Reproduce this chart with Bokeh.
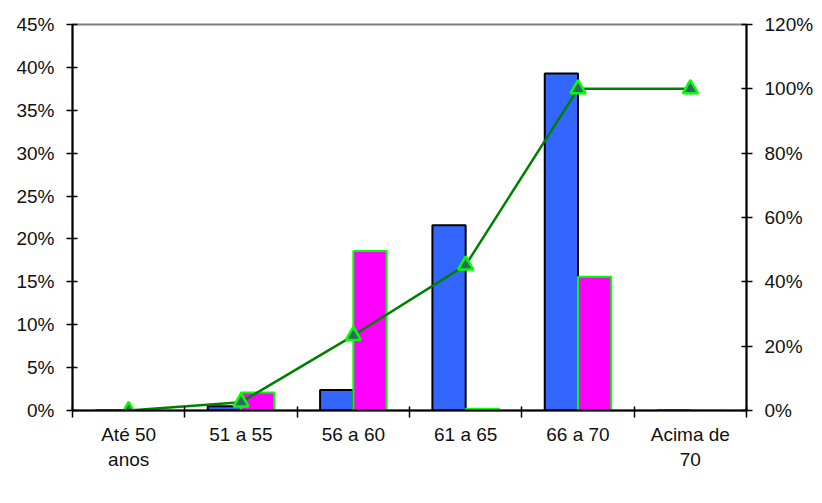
from bokeh.plotting import figure
from bokeh.models import (Range1d, LinearAxis, FixedTicker, NumeralTickFormatter,
                          Legend, LegendItem, ColumnDataSource)
from bokeh.transform import dodge
from bokeh.embed import file_html
from bokeh.resources import INLINE

# ---- data ----
categories = ["Até 50\nanos", "51 a 55", "56 a 60", "61 a 65", "66 a 70", "Acima de\n70"]
homens = [0.0, 0.005, 0.024, 0.216, 0.393, 0.0]
mulheres = [0.0, 0.021, 0.186, 0.002, 0.156, 0.0]
acumulado = [0.0, 0.026, 0.233, 0.452, 1.0, 1.0]
left_ticks = [0.0, 0.05, 0.10, 0.15, 0.20, 0.25, 0.30, 0.35, 0.40, 0.45]
right_ticks = [0.0, 0.2, 0.4, 0.6, 0.8, 1.0, 1.2]

n = len(categories)
xpos = [i + 0.5 for i in range(n)]
bounds = [float(i) for i in range(n + 1)]
src = ColumnDataSource(dict(x=xpos, homens=homens, mulheres=mulheres, acum=acumulado))

FONT = "Liberation Sans"
BAR_W = 0.296

p = figure(frame_width=674, frame_height=386, output_backend="svg", toolbar_location=None,
           x_range=Range1d(0, n), y_range=Range1d(0, left_ticks[-1]),
           min_border_left=72, min_border_right=60, min_border_top=24, min_border_bottom=0)
p.extra_y_ranges = {"acum": Range1d(0, right_ticks[-1])}
p.xgrid.visible = False
p.ygrid.visible = False
p.outline_line_color = "#808080"
p.outline_line_width = 2
p.background_fill_color = "white"
p.border_fill_color = "white"

# x axis
xa = p.xaxis[0]
xa.ticker = FixedTicker(ticks=xpos, minor_ticks=bounds)
xa.major_label_overrides = {x: c for x, c in zip(xpos, categories)}
xa.major_tick_out = 0
xa.major_tick_in = 0
xa.minor_tick_out = 7
xa.minor_tick_in = 4
xa.minor_tick_line_color = "black"
xa.minor_tick_line_width = 1.5
xa.axis_line_color = "black"
xa.axis_line_width = 2
xa.major_label_text_font = FONT
xa.major_label_text_font_size = "19px"
xa.major_label_text_color = "#111111"
xa.major_label_standoff = 6

# left axis
ya = p.yaxis[0]
ya.ticker = FixedTicker(ticks=left_ticks)
ya.formatter = NumeralTickFormatter(format="0%")

ra = LinearAxis(y_range_name="acum", ticker=FixedTicker(ticks=right_ticks),
                formatter=NumeralTickFormatter(format="0%"))
p.add_layout(ra, "right")

for ax in (ya, ra):
    ax.major_tick_out = 6
    ax.major_tick_in = 5
    ax.minor_tick_out = 0
    ax.minor_tick_in = 0
    ax.major_tick_line_color = "black"
    ax.major_tick_line_width = 1.5
    ax.axis_line_color = "black"
    ax.axis_line_width = 2
    ax.major_label_text_font = FONT
    ax.major_label_text_font_size = "19px"
    ax.major_label_text_color = "#111111"
    ax.major_label_standoff = 12

# bars
rh = p.vbar(x=dodge("x", -BAR_W / 2, range=p.x_range), top="homens", width=BAR_W, source=src,
            fill_color="#3366FF", line_color="black", line_width=2)
rm = p.vbar(x=dodge("x", BAR_W / 2, range=p.x_range), top="mulheres", width=BAR_W, source=src,
            fill_color="#FF00FF", line_color="#00FF00", line_width=2)

# cumulative line
rl = p.line(x="x", y="acum", source=src, y_range_name="acum", line_color="#008000", line_width=2.5)
rs = p.scatter(x="x", y="acum", source=src, y_range_name="acum", marker="triangle", size=15,
               fill_color="#336666", line_color="#00FF00", line_width=2.5)

legend = Legend(items=[LegendItem(label="Homens", renderers=[rh]),
                       LegendItem(label="Mulheres", renderers=[rm]),
                       LegendItem(label="Acumulado", renderers=[rl, rs])],
                orientation="horizontal", location="top_right")
legend.label_text_font = FONT
legend.label_text_font_size = "18px"
legend.label_text_color = "black"
legend.glyph_width = 52
legend.glyph_height = 14
legend.spacing = 72
legend.padding = 3
legend.margin = 0
legend.label_standoff = 5
legend.border_line_color = "black"
legend.border_line_width = 1.5
legend.background_fill_alpha = 1
p.add_layout(legend, "below")

open("out.html", "w").write(file_html(p, INLINE))
